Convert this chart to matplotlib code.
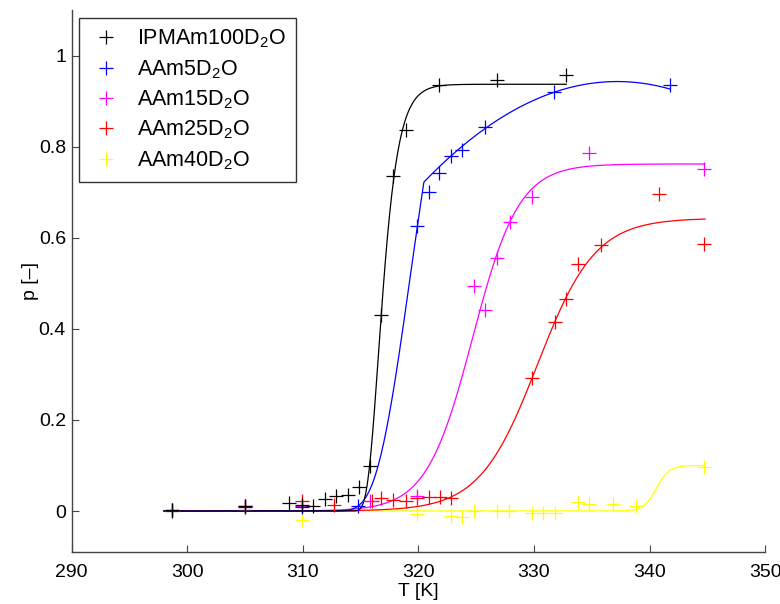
import numpy as np
import matplotlib
matplotlib.use("Agg")
import matplotlib.pyplot as plt

plt.rcParams['font.family'] = ['Liberation Sans', 'DejaVu Sans']
plt.rcParams['mathtext.fontset'] = 'custom'
plt.rcParams['mathtext.rm'] = 'Liberation Sans'

# ---- data ----
labels = [r'IPMAm100D$_\mathregular{2}$O', r'AAm5D$_\mathregular{2}$O',
          r'AAm15D$_\mathregular{2}$O', r'AAm25D$_\mathregular{2}$O',
          r'AAm40D$_\mathregular{2}$O']
colors = ['#000000', '#0000ff', '#ff00ff', '#ff0000', '#ffff00']

T_ipmam100 = [298.7, 305.0, 308.8, 309.9, 310.9, 311.9, 312.9, 313.9, 314.9, 315.8,
              316.8, 317.8, 318.9, 321.8, 326.8, 332.8]
p_ipmam100 = [0.003, 0.011, 0.018, 0.013, 0.011, 0.027, 0.033, 0.035, 0.052, 0.099,
              0.431, 0.736, 0.836, 0.936, 0.946, 0.958]

T_aam5 = [298.7, 305.0, 309.9, 314.8, 319.9, 320.9, 321.8, 322.8, 323.8, 325.8, 331.7, 341.8]
p_aam5 = [0.001, 0.008, 0.008, 0.012, 0.626, 0.700, 0.742, 0.779, 0.793, 0.843, 0.920, 0.936]

T_aam15 = [298.7, 305.0, 309.9, 315.8, 319.9, 324.8, 325.8, 326.8, 327.9, 329.8, 334.8, 344.7]
p_aam15 = [0.002, 0.010, 0.010, 0.023, 0.033, 0.493, 0.442, 0.555, 0.635, 0.689, 0.787, 0.752]

T_aam25 = [298.7, 305.0, 309.9, 312.7, 316.0, 316.8, 317.8, 318.9, 319.9, 320.9, 321.9,
           322.8, 329.8, 331.8, 332.8, 333.8, 335.8, 340.8, 344.7]
p_aam25 = [0.003, 0.012, 0.022, 0.013, 0.023, 0.028, 0.024, 0.023, 0.028, 0.031, 0.030,
           0.028, 0.292, 0.414, 0.465, 0.543, 0.583, 0.697, 0.586]

T_aam40 = [298.7, 305.0, 309.9, 319.9, 322.8, 323.8, 324.8, 326.8, 327.8, 329.8, 330.8,
           331.8, 333.8, 334.8, 336.8, 338.8, 344.7]
p_aam40 = [0.000, 0.005, -0.020, -0.007, -0.011, -0.014, 0.001, 0.000, 0.000, -0.005,
           -0.005, -0.005, 0.019, 0.015, 0.015, 0.010, 0.097]

# fitted model parameters
fit_ipmam100 = dict(kind='gompertz', A=0.937, k=1.05, c=316.55, Tmax=332.8)
fit_aam5 = dict(kind='gompertz_quad', A=1.4, k=0.35, c=319.3,
                Tv=337.2, pv=0.943, q=-0.00079, Tmax=341.8)
fit_aam15 = dict(kind='logistic', A=0.762, c=324.7, w=2.0, Tmax=344.8)
fit_aam25 = dict(kind='logistic', A=0.643, c=330.3, w=2.5, Tmax=344.8)
fit_aam40 = dict(kind='logistic', A=0.10, c=340.6, w=0.55, Tmax=344.8)
T_fit_start = 298.0


def model(f, T):
    if f['kind'] == 'gompertz':
        return f['A'] * np.exp(-np.exp(-f['k'] * (T - f['c'])))
    if f['kind'] == 'gompertz_quad':
        g = f['A'] * np.exp(-np.exp(-f['k'] * (T - f['c'])))
        qd = f['pv'] + f['q'] * (T - f['Tv']) ** 2
        return np.where(T < f['c'], g, np.minimum(g, qd))
    return f['A'] / (1.0 + np.exp(-(T - f['c']) / f['w']))


series = [(T_ipmam100, p_ipmam100, fit_ipmam100),
          (T_aam5, p_aam5, fit_aam5),
          (T_aam15, p_aam15, fit_aam15),
          (T_aam25, p_aam25, fit_aam25),
          (T_aam40, p_aam40, fit_aam40)]

fig = plt.figure(figsize=(7.8, 6.04), dpi=100)
ax = fig.add_axes([0.0917, 0.0861, 0.981 - 0.0917, 0.9834 - 0.0861])

handles = [None] * len(series)
order = list(range(len(series)))[::-1]
for i in order:
    T, p, f = series[i]
    Tf = np.linspace(T_fit_start, f['Tmax'], 800)
    ax.plot(Tf, model(f, Tf), color=colors[i], linewidth=0.9)
for i in order:
    T, p, f = series[i]
    h, = ax.plot(T, p, linestyle='none', marker='+', color=colors[i], markersize=10,
                 markeredgewidth=0.9, label=labels[i])
    handles[i] = h

ax.set_xlim(290, 350)
ax.set_ylim(-0.09, 1.1)
ax.set_xticks([290, 300, 310, 320, 330, 340, 350])
ax.set_yticks([0, 0.2, 0.4, 0.6, 0.8, 1.0])
ax.set_yticklabels(['0', '0.2', '0.4', '0.6', '0.8', '1'])
for s in ['top', 'right']:
    ax.spines[s].set_visible(False)
for s in ['left', 'bottom']:
    ax.spines[s].set_color('#444444')
    ax.spines[s].set_linewidth(1.0)
ax.tick_params(direction='in', length=5, width=0.8, colors='#444444',
               labelcolor='black', labelsize=14)
ax.tick_params(axis='x', pad=9)
ax.tick_params(axis='y', pad=4)
ax.set_xlabel('T [K]', fontsize=14, labelpad=1)
ax.set_ylabel('p [–]', fontsize=14, labelpad=0)

leg = ax.legend(handles=handles, loc='upper left', bbox_to_anchor=(0.011, 0.985),
                fontsize=15.5, frameon=True, fancybox=False, borderpad=0.45,
                labelspacing=0.36, handlelength=1.6, handletextpad=0.65,
                borderaxespad=0.0)
leg.get_frame().set_edgecolor('black')
leg.get_frame().set_linewidth(1.0)

fig.savefig('out.png', dpi=100)
